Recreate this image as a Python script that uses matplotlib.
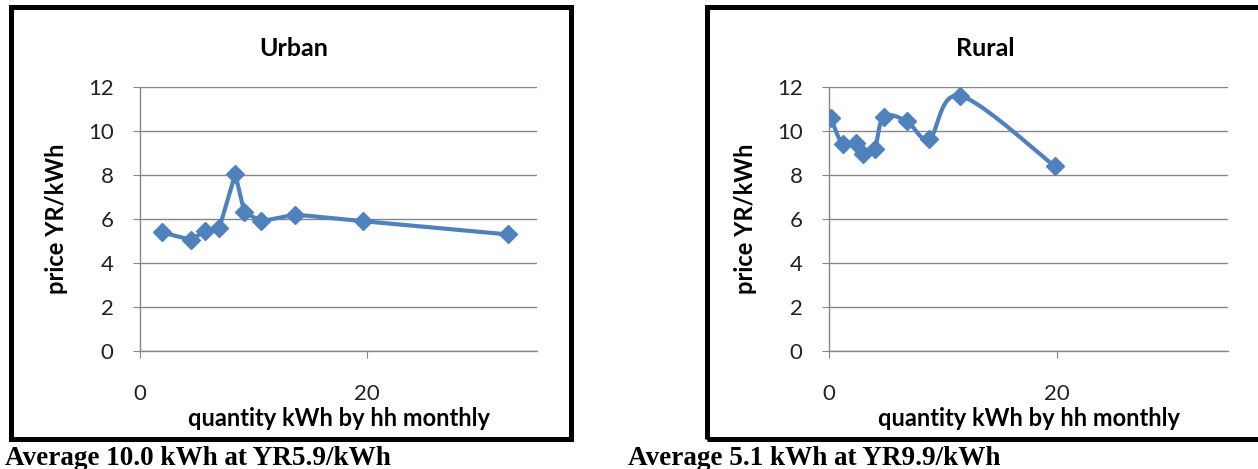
import numpy as np
import matplotlib.pyplot as plt
from matplotlib.patches import Rectangle

plt.rcParams['font.family'] = ['Lato', 'DejaVu Sans']

# monthly household consumption (kWh) vs price paid (YR/kWh)
urban_kwh = [1.9, 4.5, 5.7, 7.0, 8.4, 9.2, 10.7, 13.7, 19.7, 32.4]
urban_price = [5.4, 5.05, 5.45, 5.6, 8.05, 6.3, 5.9, 6.2, 5.9, 5.3]
rural_kwh = [0.15, 1.2, 2.4, 3.0, 4.0, 4.8, 6.8, 8.8, 11.5, 19.8]
rural_price = [10.6, 9.4, 9.45, 8.95, 9.2, 10.65, 10.45, 9.65, 11.6, 8.4]

y_ticks = [0, 2, 4, 6, 8, 10, 12]
x_ticks = [0, 20]
captions = ['Average 10.0 kWh at YR5.9/kWh', 'Average 5.1 kWh at YR9.9/kWh']

BLUE = '#4F81BD'
GRID = '#868686'
W, H = 1258, 469


def smooth(x, y, n=24):
    # Bezier smoothing through every point (spreadsheet style)
    pts = np.column_stack([x, y]).astype(float)
    ext = np.vstack([pts[0], pts, pts[-1]])
    out = []
    for i in range(1, len(ext) - 2):
        p0, p1, p2, p3 = ext[i - 1], ext[i], ext[i + 1], ext[i + 2]
        c1 = p1 + (p2 - p0) / 6.0
        c2 = p2 - (p3 - p1) / 6.0
        t = np.linspace(0, 1, n)[:, None]
        seg = ((1 - t) ** 3) * p1 + 3 * ((1 - t) ** 2) * t * c1 + 3 * (1 - t) * t ** 2 * c2 + t ** 3 * p2
        out.append(seg)
    out = np.vstack(out)
    return out[:, 0], out[:, 1]


def px_axes(left, right, top, bottom):
    return [left / W, 1 - bottom / H, (right - left) / W, (bottom - top) / H]


fig = plt.figure(figsize=(W / 100, H / 100), dpi=100)

panels = [
    dict(title='Urban', x=urban_kwh, y=urban_price, curved=False,
         rect=px_axes(140, 537, 87, 351), title_x=294, box=(10.5, 570.5), cap_x=5, caption=captions[0]),
    dict(title='Rural', x=rural_kwh, y=rural_price, curved=True,
         rect=px_axes(829, 1228, 87, 351), title_x=985, box=(707, 1275), cap_x=628, caption=captions[1]),
]

for p in panels:
    ax = fig.add_axes(p['rect'])
    xs, ys = p['x'], p['y']
    if p['curved']:
        sx, sy = smooth(xs, ys)
        ax.plot(sx, sy, color=BLUE, lw=3.0, solid_capstyle='round', zorder=3)
        ax.plot(xs, ys, ls='none', marker='D', ms=9.5, color=BLUE, zorder=4)
    else:
        ax.plot(xs, ys, color=BLUE, lw=3.0, marker='D', ms=9.5, zorder=3)

    ax.set_xlim(0, 35)
    ax.set_ylim(0, 12)
    ax.set_yticks(y_ticks)
    ax.set_xticks(x_ticks)
    ax.grid(axis='y', color=GRID, lw=1.0)
    ax.set_axisbelow(True)
    for s in ['top', 'right']:
        ax.spines[s].set_visible(False)
    for s in ['left', 'bottom']:
        ax.spines[s].set_color(GRID)
        ax.spines[s].set_linewidth(1.0)
    ax.tick_params(axis='y', direction='out', length=5, color=GRID, pad=14, labelsize=16, labelcolor='#222222')
    ax.tick_params(axis='x', direction='out', length=5, color=GRID, pad=19, labelsize=16, labelcolor='#222222')

    ax.set_ylabel('price YR/kWh', fontsize=17, fontweight='bold', va='center')
    ax.yaxis.set_label_coords(-0.21, 0.5)
    ax.set_xlabel('quantity kWh by hh monthly', fontsize=17, fontweight='bold', va='center')
    ax.xaxis.set_label_coords(0.5, -0.254)

    fig.text(p['title_x'] / W, 1 - 48 / H, p['title'], fontsize=18, fontweight='bold',
             ha='center', va='center')

    # chart border
    bl, br = p['box']
    fig.patches.append(Rectangle((bl / W, 1 - 438.5 / H), (br - bl) / W, 431 / H,
                                 transform=fig.transFigure, fill=False, lw=3.6, ec='black'))
    fig.text(p['cap_x'] / W, 1 - 458 / H, p['caption'], fontsize=19.5, fontweight='bold',
             family='Liberation Serif', ha='left', va='center')

fig.savefig('out.png', dpi=100)
